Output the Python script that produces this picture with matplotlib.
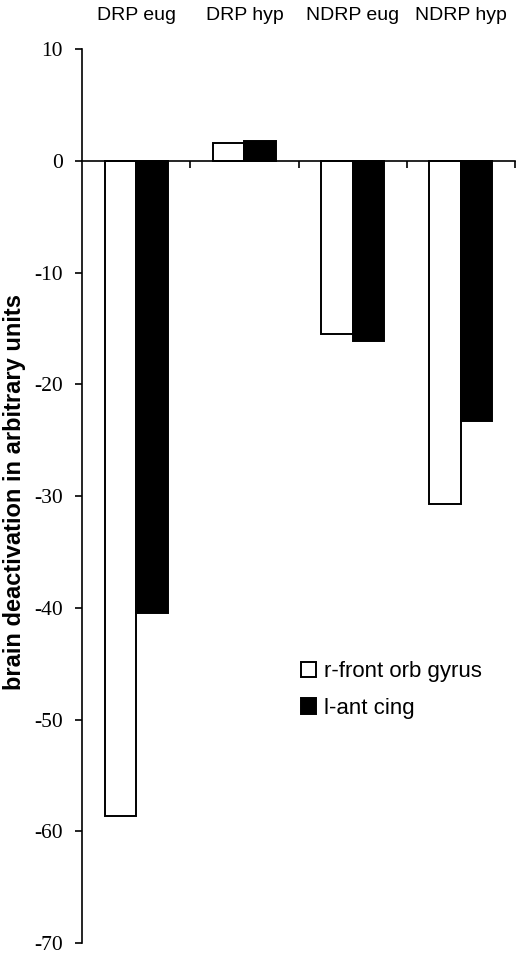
import matplotlib.pyplot as plt
import numpy as np

groups = ['DRP eug', 'DRP hyp', 'NDRP eug', 'NDRP hyp']
series = ['r-front orb gyrus', 'l-ant cing']
orb_gyrus = [-58.6, 1.6, -15.5, -30.7]
ant_cing = [-40.5, 1.8, -16.1, -23.3]
y_ticks = [10, 0, -10, -20, -30, -40, -50, -60, -70]

fig = plt.figure(figsize=(5.2, 9.55), dpi=100)
ax = fig.add_axes([82 / 520, 1 - 943 / 955, 433 / 520, 894 / 955])

x = np.arange(len(groups))
w = 0.29
ax.bar(x - w / 2, orb_gyrus, w, color='white', edgecolor='black', linewidth=1.4, label=series[0])
ax.bar(x + w / 2, ant_cing, w, color='black', edgecolor='black', linewidth=1.4, label=series[1])

ax.set_xlim(-0.5, len(groups) - 0.5)
ax.set_ylim(-70, 10)

# axis styling: x axis sits on zero, ticks between groups
ax.spines['top'].set_visible(False)
ax.spines['right'].set_visible(False)
ax.spines['bottom'].set_position(('data', 0))
ax.spines['left'].set_linewidth(1.2)
ax.spines['bottom'].set_linewidth(1.2)
ax.set_xticks(x + 0.5)
ax.set_xticklabels([])
ax.tick_params(axis='x', direction='out', length=5, width=1.2)

ax.set_yticks(y_ticks)
ax.set_yticklabels([str(t) for t in y_ticks], fontfamily='Liberation Serif', fontsize=15.5)
ax.tick_params(axis='y', direction='out', length=5, width=1.2, pad=9)

# group labels above the plot
for xi, g in zip(x, groups):
    ax.text(xi, 1.038, g, transform=ax.get_xaxis_transform(), ha='center', va='center',
            fontfamily='Liberation Sans', fontsize=14)

ax.set_ylabel('brain deactivation in arbitrary units', fontfamily='Liberation Sans',
              fontweight='bold', fontsize=17)
ax.yaxis.set_label_coords(-0.13, 0.505)

ax.legend(loc='upper left', bbox_to_anchor=(0.485, 0.325), frameon=False,
          prop={'family': 'Liberation Sans', 'size': 16}, handlelength=0.7, handleheight=0.7,
          handletextpad=0.35, labelspacing=0.7, borderaxespad=0)

fig.savefig('out.png', dpi=100)
